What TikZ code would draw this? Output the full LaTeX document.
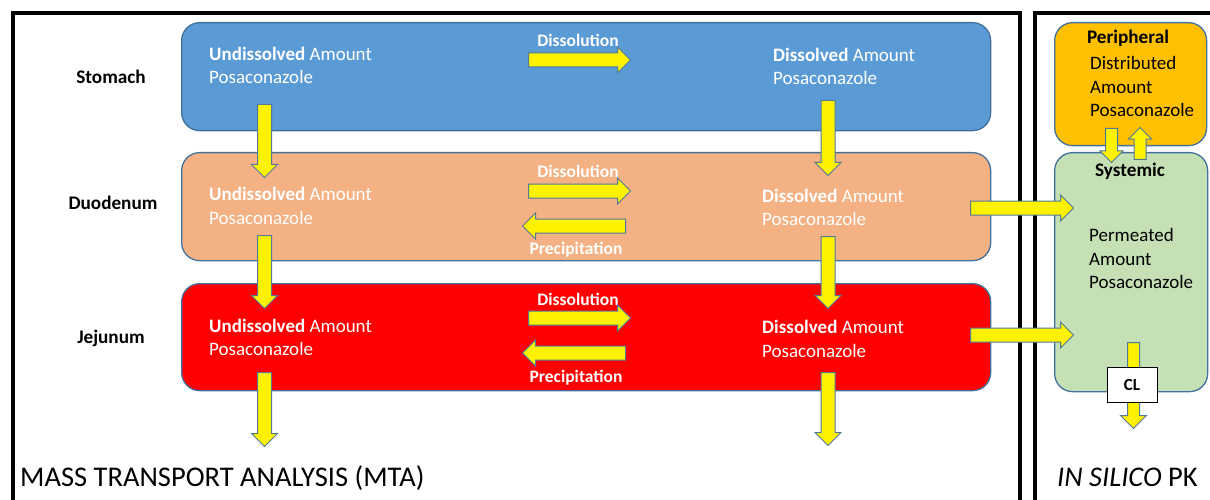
\documentclass[tikz,border=0pt]{standalone}
\usepackage{fontspec}
\setmainfont{Carlito}
\usetikzlibrary{positioning, shapes.arrows}

\definecolor{edgeblue}{HTML}{41719C}
\definecolor{arrowedge}{HTML}{52789A}
\definecolor{stomachfill}{HTML}{5B9BD5}
\definecolor{duodenumfill}{HTML}{F4B183}
\definecolor{jejunumfill}{HTML}{FF0000}
\definecolor{peripheralfill}{HTML}{FFC000}
\definecolor{systemicfill}{HTML}{C5E0B4}

\begin{document}
\begin{tikzpicture}[
  x=1pt, y=-1pt,
  compartment/.style={draw=edgeblue, line width=1.3pt, rounded corners=18pt, inner sep=0pt, anchor=north west},
  boxtext/.style={font=\fontsize{19}{23.5}\selectfont, text=white, align=left, anchor=west, inner sep=0pt},
  pktext/.style={font=\fontsize{19}{23.5}\selectfont, align=left, anchor=west, inner sep=0pt},
  organ/.style={font=\bfseries\fontsize{19.2}{22}\selectfont, inner sep=0pt},
  rate/.style={font=\bfseries\fontsize{17.5}{20}\selectfont, text=white, inner sep=0pt},
  fatarrow/.style={single arrow, draw=arrowedge, fill=yellow, line width=1pt,
    inner xsep=0pt, inner ysep=6.5pt, single arrow head extend=6pt,
    single arrow head indent=0pt, minimum height=#1, anchor=tail},
  fatarrow/.default=100pt,
  frame/.style={line width=4pt}
]
\useasboundingbox (0,0) rectangle (1210,500);

% Frames
\draw[frame] (13,502) -- (13,13) -- (1020,13) -- (1020,502);
\draw[frame] (1035,502) -- (1035,13) -- (1212,13);

% MTA compartments
\node[compartment, fill=stomachfill, minimum width=809pt, minimum height=108pt] (stomach) at (181,22) {};
\node[compartment, fill=duodenumfill, minimum width=809pt, minimum height=108pt] (duodenum) at (181,152) {};
\node[compartment, fill=jejunumfill, minimum width=809pt, minimum height=107pt] (jejunum) at (181,283) {};

\node[organ] (stomachlbl) at (111,77) {Stomach};
\node[organ] (duodenumlbl) at (113,203) {Duodenum};
\node[organ] (jejunumlbl) at (111,338) {Jejunum};

\node[boxtext] (stomachU) at (209,65.5) {\textbf{Undissolved} Amount\\Posaconazole};
\node[boxtext] (stomachD) at (773,66.5) {\textbf{Dissolved} Amount\\Posaconazole};
\node[boxtext] (duodenumU) at (209,206) {\textbf{Undissolved} Amount\\Posaconazole};
\node[boxtext] (duodenumD) at (762,207.5) {\textbf{Dissolved} Amount\\Posaconazole};
\node[boxtext] (jejunumU) at (209,337.5) {\textbf{Undissolved} Amount\\Posaconazole};
\node[boxtext] (jejunumD) at (762,339) {\textbf{Dissolved} Amount\\Posaconazole};

% Dissolution / precipitation
\node[rate] (diss1) at (578,40) {Dissolution};
\node[fatarrow=102pt] (diss1arr) at (528,60) {};
\node[rate] (diss2) at (578,171) {Dissolution};
\node[fatarrow=102pt] (diss2arr) at (528,191) {};
\node[fatarrow=103pt, rotate=180] (prec2arr) at (626,226) {};
\node[rate] (prec2) at (576,250) {Precipitation};
\node[rate] (diss3) at (578,299) {Dissolution};
\node[fatarrow=102pt] (diss3arr) at (528,318) {};
\node[fatarrow=103pt, rotate=180] (prec3arr) at (626,353) {};
\node[rate] (prec3) at (576,378) {Precipitation};

% Transit between compartments
\node[fatarrow=73pt, rotate=-90] (transU1) at (264.5,104) {};
\node[fatarrow=73pt, rotate=-90] (transU2) at (264.5,235) {};
\node[fatarrow=74pt, rotate=-90] (transU3) at (264.5,372) {};
\node[fatarrow=75pt, rotate=-90] (transD1) at (828,100) {};
\node[fatarrow=72pt, rotate=-90] (transD2) at (828,236) {};
\node[fatarrow=73pt, rotate=-90] (transD3) at (828,372) {};

% PK compartments
\node[compartment, fill=peripheralfill, minimum width=152pt, minimum height=123pt] (peripheral) at (1054,22) {};
\node[compartment, fill=systemicfill, minimum width=153pt, minimum height=239pt] (systemic) at (1054,152) {};

\node[organ] (peripherallbl) at (1128,38) {Peripheral};
\node[pktext] (peripheraltxt) at (1090,86.5) {Distributed\\Amount\\Posaconazole};
\node[organ] (systemiclbl) at (1130,171) {Systemic};
\node[pktext] (systemictxt) at (1089,258.5) {Permeated\\Amount\\Posaconazole};

% Absorption
\node[fatarrow=103pt] (absorb2) at (970,208) {};
\node[fatarrow=103pt] (absorb3) at (970,335) {};

% Distribution
\node[fatarrow=34pt, rotate=-90, inner ysep=5.5pt, single arrow head extend=5.5pt] (distout) at (1111.5,128) {};
\node[fatarrow=32pt, rotate=90, inner ysep=5.5pt, single arrow head extend=5.5pt] (distin) at (1140,160) {};

% Clearance
\node[fatarrow=86pt, rotate=-90, inner ysep=5.5pt, single arrow head extend=7pt] (clarr) at (1133.5,342) {};
\node[draw, fill=white, line width=1pt, minimum width=50pt, minimum height=35pt, inner sep=0pt,
  font=\bfseries\fontsize{17}{20}\selectfont] (cl) at (1132,384.5) {CL};

% Section titles
\node[anchor=base west, inner sep=0pt, font=\fontsize{28.5}{32}\selectfont] (mta) at (20,486) {MASS TRANSPORT ANALYSIS (MTA)};
\node[anchor=base west, inner sep=0pt, font=\fontsize{28.5}{32}\selectfont] (pk) at (1057,486) {\textit{IN SILICO} PK};

\end{tikzpicture}
\end{document}
